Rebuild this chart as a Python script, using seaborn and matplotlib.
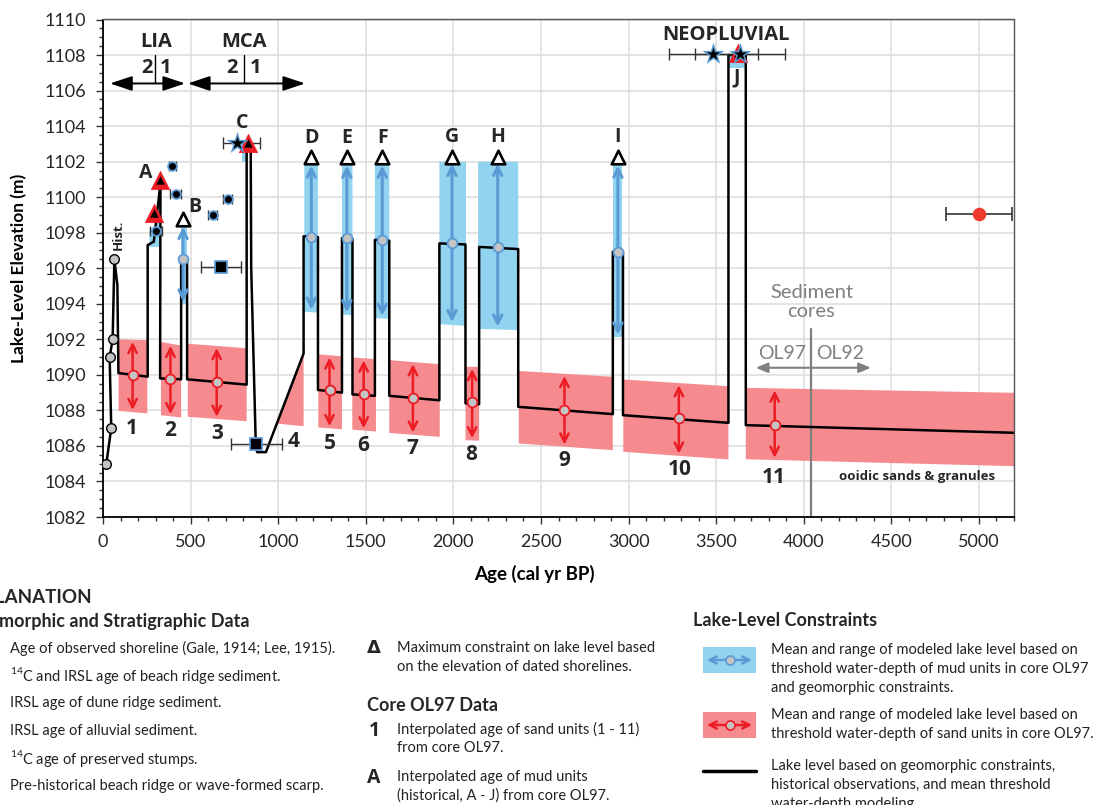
import matplotlib
matplotlib.use('Agg')
import numpy as np
import matplotlib.pyplot as plt
import seaborn as sns
from matplotlib.lines import Line2D
from matplotlib.patches import Rectangle, FancyArrowPatch
from matplotlib.ticker import MultipleLocator

# ---- lake level curve (age cal yr BP, elevation m) ----
lake_age = [19, 47, 38, 55, 65, 82, 88, 255, 255, 290, 328, 326,
            446, 446, 480, 480, 820, 820, 843, 846, 872, 880, 930,
            1145, 1145, 1227, 1227, 1364, 1364, 1424, 1424, 1552, 1552,
            1634, 1634, 1920, 1920, 2069, 2069, 2147, 2147, 2370, 2370,
            2910, 2910, 2968, 2968, 3570, 3570, 3669, 3669, 5200]
lake_elev = [1085, 1087, 1091, 1092, 1096.5, 1095.05, 1090.1, 1089.9, 1097.3, 1097.5, 1100.8, 1089.8,
             1089.75, 1096.5, 1096.5, 1089.75, 1089.45, 1103.0, 1103.0, 1096.0, 1086.1, 1085.65, 1085.65,
             1091.2, 1097.8, 1097.75, 1089.15, 1089.0, 1097.7, 1097.65, 1088.9, 1088.82, 1097.6,
             1097.55, 1088.82, 1088.57, 1097.4, 1097.34, 1088.4, 1088.35, 1097.2, 1097.08, 1088.2,
             1087.79, 1096.93, 1096.93, 1087.73, 1087.3, 1108.0, 1108.0, 1087.17, 1086.74]

# historical shoreline observations
hist_age = [19, 47, 38, 55, 65]
hist_elev = [1085, 1087, 1091, 1092, 1096.5]

# ---- sand units (red bands) ----
sand_unit = ['1', '2', '3', '5', '6', '7', '8', '9', '10', '11']
sand_x0 = [89, 331, 484, 1229, 1423, 1634, 2069, 2373, 2970, 3669]
sand_x1 = [253, 446, 820, 1364, 1558, 1922, 2147, 2910, 3570, 5200]
sand_top0 = [1092.0, 1091.85, 1091.75, 1091.15, 1090.98, 1090.83, 1090.45, 1090.22, 1089.74, 1089.27]
sand_top1 = [1091.95, 1091.65, 1091.5, 1091.05, 1090.88, 1090.6, 1090.45, 1089.89, 1089.36, 1088.99]
sand_bot0 = [1087.97, 1087.73, 1087.64, 1087.04, 1086.92, 1086.73, 1086.32, 1086.14, 1085.67, 1085.25]
sand_bot1 = [1087.83, 1087.6, 1087.39, 1086.94, 1086.81, 1086.51, 1086.3, 1085.76, 1085.24, 1084.86]
sand_mean_age = [169, 385, 649, 1293, 1488, 1769, 2107, 2634, 3287, 3834]
sand_mean_elev = [1089.98, 1089.76, 1089.6, 1089.14, 1088.95, 1088.71, 1088.48, 1088.05, 1087.55, 1087.17]
sand_label_age = [166, 385, 649, 1297, 1484, 1767, 2103, 2636, 3291, 3830]
sand_label_elev = [1086.98, 1086.85, 1086.7, 1086.14, 1086.0, 1085.85, 1085.54, 1085.16, 1084.67, 1084.22]
# unit 4 band (below the rising line)
sand4_age = [993, 1145, 1145]
sand4_elev = [1087.26, 1091.1, 1087.11]
sand4_label = (1088, 1086.23)

# ---- mud units (blue bands) ----
mud_unit = ['B', 'D', 'E', 'F', 'G', 'H', 'I']
mud_x0 = [446, 1149, 1364, 1552, 1920, 2141, 2910]
mud_x1 = [480, 1227, 1424, 1634, 2072, 2370, 2963]
mud_top = [1098.45, 1101.9, 1101.9, 1101.9, 1102.0, 1102.0, 1101.9]
mud_bot0 = [1094.0, 1093.55, 1093.4, 1093.2, 1092.85, 1092.59, 1092.15]
mud_bot1 = [1094.0, 1093.5, 1093.35, 1093.15, 1092.76, 1092.52, 1092.15]
mud_mean_age = [457, 1189, 1392, 1594, 1992, 2253, 2939]
mud_mean_elev = [1096.5, 1097.77, 1097.7, 1097.6, 1097.4, 1097.17, 1096.93]
# small mud units without model arrows (C, J) and A
small_x0 = [792, 3575]
small_x1 = [822, 3665]
small_bot = [1102.0, 1107.25]
small_top = [1103.0, 1108.0]
mudA_age = [265, 330, 330, 300, 265]
mudA_elev = [1097.2, 1097.2, 1100.6, 1098.4, 1098.2]

# mud unit letters
letter = ['A', 'B', 'C', 'D', 'E', 'F', 'G', 'H', 'I', 'J']
letter_age = [244, 522, 796, 1189, 1392, 1594, 1992, 2253, 2939, 3617]
letter_elev = [1101.34, 1099.46, 1104.15, 1103.35, 1103.35, 1103.35, 1103.37, 1103.37, 1103.37, 1106.75]

# maximum constraints (open triangles)
tri_open_age = [457, 1189, 1392, 1594, 1992, 2253, 2939]
tri_open_elev = [1098.8, 1102.24, 1102.24, 1102.24, 1102.28, 1102.28, 1102.28]
# pre-historical beach ridge / scarp (red triangles)
tri_red_age = [291, 326, 830, 3622]
tri_red_elev = [1099.12, 1100.96, 1103.03, 1108.1]
# beach ridge ages
ridge_age = [303, 396, 415, 626, 711]
ridge_elev = [1098.1, 1101.75, 1100.17, 1098.99, 1099.91]
ridge_err = [33, 20, 33, 24, 27]
# alluvial ages
alluv_age = [674, 875]
alluv_elev = [1096.08, 1086.1]
alluv_err = [113, 145]
# stumps
stump_age = [767, 3484, 3636]
stump_elev = [1103.03, 1108.04, 1108.04]
stump_err_lo = [83, 254, 257]
stump_err_hi = [130, 257, 257]
# dune ridge
dune_age = [5000]
dune_elev = [1099.03]
dune_err = [190]

blue_fill = '#92d3ef'
blue_line = '#5b9bd5'
red_fill = '#f58b8f'
red_line = '#ec1c24'
gray_fill = '#c4c4c4'
W, H = 1106, 805
BOLD = ['Open Sans', 'DejaVu Sans']

sns.set_theme(style='whitegrid')
plt.rcParams['font.family'] = ['Lato', 'DejaVu Sans']
plt.rcParams['mathtext.fontset'] = 'custom'
plt.rcParams['mathtext.rm'] = 'Lato'

fig = plt.figure(figsize=(W / 100, H / 100), dpi=100)
ax = fig.add_axes([103 / W, 1 - 517 / H, (1014 - 103) / W, (517 - 19.5) / H])
ax.set_facecolor('white')

# bands
for i in range(len(sand_unit)):
    ax.fill([sand_x0[i], sand_x1[i], sand_x1[i], sand_x0[i]],
            [sand_top0[i], sand_top1[i], sand_bot1[i], sand_bot0[i]],
            color=red_fill, lw=0, zorder=1)
ax.fill(sand4_age, sand4_elev, color=red_fill, lw=0, zorder=1)
for i in range(len(mud_unit)):
    ax.fill([mud_x0[i], mud_x1[i], mud_x1[i], mud_x0[i]],
            [mud_top[i], mud_top[i], mud_bot1[i], mud_bot0[i]],
            color=blue_fill, lw=0, zorder=1)
for i in range(len(small_x0)):
    ax.fill([small_x0[i], small_x1[i], small_x1[i], small_x0[i]],
            [small_bot[i], small_bot[i], small_top[i], small_top[i]],
            color=blue_fill, lw=0, zorder=1)
ax.fill(mudA_age, mudA_elev, color=blue_fill, lw=0, zorder=1)

# sediment cores divider
ax.plot([4040, 4040], [1082, 1092.6], color='#7f7f7f', lw=1.6, zorder=1.5)
ax.annotate('', xy=(4383, 1090.4), xytext=(3726, 1090.4),
            arrowprops=dict(arrowstyle='<|-|>,head_length=0.6,head_width=0.25', color='#7f7f7f',
                            lw=1.5, mutation_scale=12, shrinkA=0, shrinkB=0), zorder=1.5)
ax.text(4046, 1094.66, 'Sediment', color='#7f7f7f', fontsize=14.5, ha='center', va='center')
ax.text(4040, 1093.55, 'cores', color='#7f7f7f', fontsize=14.5, ha='center', va='center')
ax.text(3874, 1091.2, 'OL97', color='#7f7f7f', fontsize=14, ha='center', va='center')
ax.text(4208, 1091.2, 'OL92', color='#7f7f7f', fontsize=14, ha='center', va='center')

# lake level line
sns.lineplot(x=lake_age, y=lake_elev, sort=False, estimator=None, color='black', lw=1.8, ax=ax, zorder=2)

# model arrows
for i in range(len(sand_unit)):
    xm = sand_mean_age[i]
    f = (xm - sand_x0[i]) / (sand_x1[i] - sand_x0[i])
    top = sand_top0[i] + f * (sand_top1[i] - sand_top0[i]) - 0.12
    bot = sand_bot0[i] + f * (sand_bot1[i] - sand_bot0[i]) + 0.12
    ax.annotate('', xy=(xm, top), xytext=(xm, bot),
                arrowprops=dict(arrowstyle='<->,head_length=0.5,head_width=0.25', color=red_line,
                                lw=1.8, mutation_scale=12, shrinkA=0, shrinkB=0), zorder=3)
for i in range(len(mud_unit)):
    xm = mud_mean_age[i]
    ax.annotate('', xy=(xm, mud_top[i] - 0.12), xytext=(xm, mud_bot0[i] + 0.12),
                arrowprops=dict(arrowstyle='<->,head_length=0.5,head_width=0.25', color=blue_line,
                                lw=2.2, mutation_scale=12, shrinkA=0, shrinkB=0), zorder=3)

sns.scatterplot(x=sand_mean_age, y=sand_mean_elev, s=50, color=gray_fill, edgecolor=red_line,
                linewidth=1.3, ax=ax, zorder=4, legend=False)
sns.scatterplot(x=mud_mean_age, y=mud_mean_elev, s=50, color=gray_fill, edgecolor=blue_line,
                linewidth=1.3, ax=ax, zorder=4, legend=False)
sns.scatterplot(x=hist_age, y=hist_elev, s=48, color=gray_fill, edgecolor='black',
                linewidth=1.0, ax=ax, zorder=4, legend=False)

# error bars
ax.errorbar(ridge_age, ridge_elev, xerr=ridge_err, fmt='none', ecolor='#333333', elinewidth=1,
            capsize=3.5, capthick=1, zorder=3.5)
ax.errorbar(alluv_age, alluv_elev, xerr=alluv_err, fmt='none', ecolor='#333333', elinewidth=1,
            capsize=4, capthick=1, zorder=3.5)
ax.errorbar(stump_age, stump_elev, xerr=[stump_err_lo, stump_err_hi], fmt='none', ecolor='#333333',
            elinewidth=1, capsize=4, capthick=1, zorder=3.5)
ax.errorbar(dune_age, dune_elev, xerr=dune_err, fmt='none', ecolor='#333333', elinewidth=1.2,
            capsize=5, capthick=1.2, zorder=3.5)

# markers
sns.scatterplot(x=tri_red_age, y=tri_red_elev, marker='^', s=175, color=red_line, edgecolor=red_line,
                linewidth=0.5, ax=ax, zorder=5, legend=False)
sns.scatterplot(x=tri_red_age, y=tri_red_elev, marker='^', s=36, color='black', edgecolor='black',
                linewidth=0, ax=ax, zorder=5.1, legend=False)
sns.scatterplot(x=tri_open_age, y=tri_open_elev, marker='^', s=95, color='white', edgecolor='black',
                linewidth=1.9, ax=ax, zorder=5, legend=False)
sns.scatterplot(x=ridge_age, y=ridge_elev, s=40, color='black', edgecolor=blue_line,
                linewidth=1.3, ax=ax, zorder=5, legend=False)
sns.scatterplot(x=alluv_age, y=alluv_elev, marker='s', s=70, color='black', edgecolor=blue_line,
                linewidth=1.3, ax=ax, zorder=5, legend=False)
sns.scatterplot(x=stump_age, y=stump_elev, marker='*', s=280, color=blue_line, edgecolor=blue_line,
                linewidth=0, ax=ax, zorder=5.2, legend=False)
sns.scatterplot(x=stump_age, y=stump_elev, marker='*', s=100, color='black', edgecolor='black',
                linewidth=0, ax=ax, zorder=5.3, legend=False)
sns.scatterplot(x=dune_age, y=dune_elev, s=95, color='#ee3b2f', edgecolor='#ee3b2f',
                linewidth=0, ax=ax, zorder=5, legend=False)

# labels
bold = dict(fontweight='bold', family=BOLD, ha='center', va='center', zorder=6)
for s, x, y in zip(letter, letter_age, letter_elev):
    ax.text(x, y, s, fontsize=14, **bold)
for s, x, y in zip(sand_unit, sand_label_age, sand_label_elev):
    ax.text(x, y, s, fontsize=15, **bold)
ax.text(sand4_label[0], sand4_label[1], '4', fontsize=15, **bold)
ax.text(88, 1097.9, 'Hist.', fontsize=9.5, rotation=90, **bold)
ax.text(4646, 1084.26, 'ooidic sands & granules', fontsize=9.5, **bold)
ax.text(3554, 1109.13, 'NEOPLUVIAL', fontsize=14.5, **bold)

# LIA / MCA periods
for name, xc, x2, x1, xdiv, xa, xb in [('LIA', 301, 249, 358, 299, 40, 469),
                                        ('MCA', 807, 735, 869, 807, 484, 1154)]:
    ax.text(xc, 1108.75, name, fontsize=14.5, **bold)
    ax.text(x2, 1107.25, '2', fontsize=14.5, **bold)
    ax.text(x1, 1107.25, '1', fontsize=14.5, **bold)
    ax.plot([xdiv, xdiv], [1106.44, 1108.0], color='black', lw=1)
    ax.annotate('', xy=(xb, 1106.4), xytext=(xa, 1106.4),
                arrowprops=dict(arrowstyle='<|-|>,head_length=0.9,head_width=0.3', color='black',
                                lw=1.4, mutation_scale=15, shrinkA=0, shrinkB=0))

# axes styling
ax.set_xlim(0, 5200)
ax.set_ylim(1082, 1110)
ax.xaxis.set_major_locator(MultipleLocator(500))
ax.xaxis.set_minor_locator(MultipleLocator(100))
ax.yaxis.set_major_locator(MultipleLocator(2))
ax.yaxis.set_minor_locator(MultipleLocator(0.5))
ax.set_axisbelow(True)
ax.grid(which='major', color='#dddddd', lw=1.1)
ax.grid(which='minor', visible=False)
ax.tick_params(which='both', direction='out', bottom=True, left=True, color='#333333', width=1)
ax.tick_params(which='major', length=5, labelsize=13, labelcolor='#262626', pad=7)
ax.tick_params(which='minor', length=2.8)
for side in ['left', 'bottom']:
    ax.spines[side].set_color('black')
    ax.spines[side].set_linewidth(1.3)
for side in ['top', 'right']:
    ax.spines[side].set_color('#555555')
    ax.spines[side].set_linewidth(1)
ax.set_xlabel('Age (cal yr BP)', fontsize=13.5, fontweight='bold', color='black')
ax.set_ylabel('Lake-Level Elevation (m)', fontsize=12.5, fontweight='bold', color='black')
ax.xaxis.set_label_coords(0.474, -0.096)
ax.yaxis.set_label_coords(-0.083, 0.5)


# ---- explanation (figure coordinates in pixels) ----
def fxy(px, py):
    return px / W, 1 - py / H


def ftext(px, py, s, **kw):
    fig.text(px / W, 1 - py / H, s, va='center', **kw)


reg = dict(fontsize=10.5, color='#222222')
ftext(92, 597, 'EXPLANATION', ha='right', fontsize=13.5, fontweight='bold')
ftext(250, 621, 'Geomorphic and Stratigraphic Data', ha='right', fontsize=13, fontweight='bold')
left_rows = ['Age of observed shoreline (Gale, 1914; Lee, 1915).',
             '$^{14}$C and IRSL age of beach ridge sediment.',
             'IRSL age of dune ridge sediment.',
             'IRSL age of alluvial sediment.',
             '$^{14}$C age of preserved stumps.',
             'Pre-historical beach ridge or wave-formed scarp.']
for k, s in enumerate(left_rows):
    ftext(10, 648 + 27.5 * k, s, ha='left', **reg)

ftext(374, 648, '\u0394', ha='center', fontsize=13, fontweight='bold', family='DejaVu Sans')
ftext(397, 648, 'Maximum constraint on lake level based', ha='left', **reg)
ftext(397, 667, 'on the elevation of dated shorelines.', ha='left', **reg)
ftext(367, 705, 'Core OL97 Data', ha='left', fontsize=13, fontweight='bold')
ftext(374, 731, '1', ha='center', fontsize=14, fontweight='bold', family=BOLD)
ftext(397, 729, 'Interpolated age of sand units (1 - 11)', ha='left', **reg)
ftext(397, 748, 'from core OL97.', ha='left', **reg)
ftext(374, 778, 'A', ha='center', fontsize=14, fontweight='bold', family=BOLD)
ftext(397, 777, 'Interpolated age of mud units', ha='left', **reg)
ftext(397, 796, '(historical, A - J) from core OL97.', ha='left', **reg)

ftext(693, 620, 'Lake-Level Constraints', ha='left', fontsize=13, fontweight='bold')
for yc, fill, line in [(660, blue_fill, blue_line), (725, red_fill, red_line)]:
    fig.add_artist(Rectangle(fxy(703, yc + 13), 53 / W, 26 / H, transform=fig.transFigure,
                             color=fill, lw=0))
    fig.add_artist(FancyArrowPatch(fxy(707, yc), fxy(752, yc), transform=fig.transFigure,
                                   arrowstyle='<->,head_length=0.5,head_width=0.25', color=line,
                                   lw=1.8, mutation_scale=10, shrinkA=0, shrinkB=0))
    fig.add_artist(Line2D([729.5 / W], [1 - yc / H], transform=fig.transFigure, marker='o', ms=6.5,
                          mfc=gray_fill, mec=line, mew=1.2))
fig.add_artist(Line2D([703 / W, 756 / W], [1 - 771 / H] * 2, transform=fig.transFigure,
                      color='black', lw=2.5))
ftext(771, 650, 'Mean and range of modeled lake level based on', ha='left', **reg)
ftext(771, 669, 'threshold water-depth of mud units in core OL97', ha='left', **reg)
ftext(771, 688, 'and geomorphic constraints.', ha='left', **reg)
ftext(771, 715, 'Mean and range of modeled lake level based on', ha='left', **reg)
ftext(771, 734, 'threshold water-depth of sand units in core OL97.', ha='left', **reg)
ftext(771, 766, 'Lake level based on geomorphic constraints,', ha='left', **reg)
ftext(771, 785, 'historical observations, and mean threshold', ha='left', **reg)
ftext(771, 804, 'water-depth modeling.', ha='left', **reg)

fig.savefig('out.png', dpi=100)
